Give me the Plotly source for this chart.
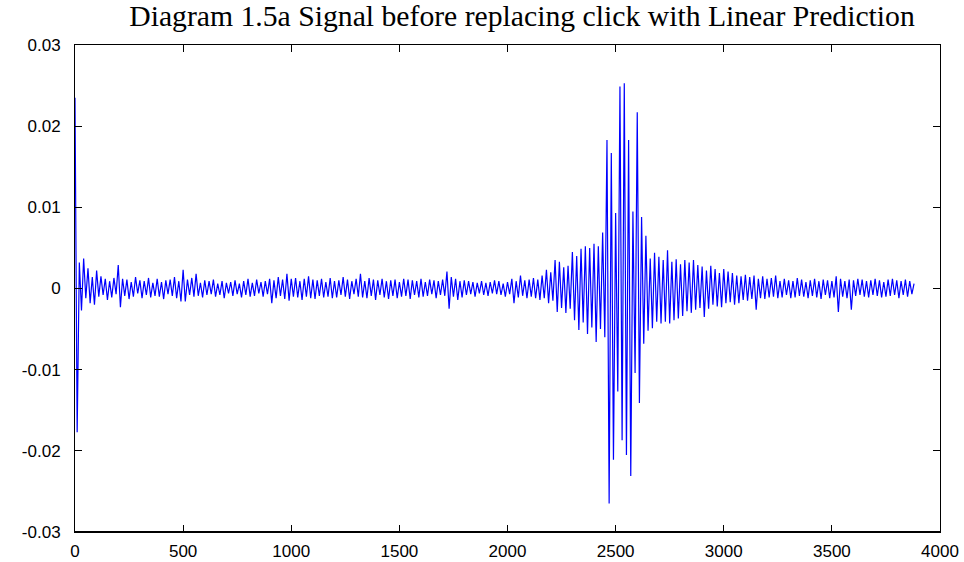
import numpy as np
import plotly.graph_objects as go

# Audio samples around a click, stored every SAMPLE_STEP samples, in units of 1e-4
SAMPLE_STEP = 10
AMP_UNIT = 1e-4
amplitude = [
    235, -177, 32, -27, 37, -12, 25, -18, 14, -20,
    22, -10, 15, -8, 12, -14, 9, -11, 13, -7,
    29, -23, 12, -9, 11, -13, 8, -10, 14, -6,
    10, -12, 9, -8, 13, -11, 7, -9, 12, -10,
    8, -13, 10, -7, 11, -9, 14, -12, 9, -16,
    23, -16, 11, -8, 13, -10, 18, -9, 7, -11,
    10, -8, 9, -7, 11, -10, 6, -8, 9, -12,
    7, -6, 8, -9, 10, -7, 6, -11, 9, -8,
    12, -10, 7, -9, 11, -6, 8, -10, 9, -7,
    12, -18, 10, -12, 14, -9, 11, -13, 18, -15,
    12, -10, 13, -11, 9, -14, 12, -10, 15, -12,
    11, -13, 10, -9, 12, -11, 8, -10, 13, -12,
    9, -11, 10, -8, 14, -10, 11, -13, 9, -7,
    12, -10, 18, -11, 9, -12, 13, -9, 11, -14,
    10, -8, 12, -11, 9, -13, 10, -9, 11, -12,
    8, -10, 12, -9, 11, -13, 10, -8, 9, -11,
    12, -10, 8, -9, 11, -7, 10, -12, 9, -8,
    11, -9, 21, -25, 14, -10, 12, -14, 9, -11,
    10, -8, 9, -7, 8, -10, 7, -6, 9, -8,
    7, -9, 8, -6, 10, -7, 9, -8, 6, -10,
    8, -7, 12, -18, 9, -11, 16, -9, 10, -12,
    11, -10, 13, -12, 11, -14, 16, -12, 23, -18,
    20, -15, 35, -29, 33, -24, 26, -30, 28, -25,
    45, -39, 40, -51, 49, -42, 52, -56, 50, -48,
    55, -66, 52, -50, 69, -60, 183, -265, 167, -211,
    93, -127, 249, -187, 253, -205, 183, -231, 95, -104,
    217, -141, 88, -68, 65, -52, 37, -49, 44, -41,
    39, -43, 35, -41, 47, -43, 33, -39, 36, -37,
    30, -34, 35, -28, 32, -30, 35, -26, 29, -24,
    27, -35, 22, -25, 28, -20, 24, -22, 19, -23,
    24, -18, 21, -17, 19, -20, 16, -18, 15, -14,
    17, -15, 14, -13, 16, -26, 12, -12, 15, -13,
    12, -11, 13, -10, 16, -12, 9, -11, 12, -8,
    10, -12, 9, -11, 13, -9, 11, -10, 8, -12,
    10, -9, 12, -11, 9, -13, 11, -8, 10, -12,
    9, -11, 15, -29, 12, -10, 9, -12, 11, -26,
    10, -9, 12, -8, 11, -10, 9, -11, 10, -8,
    12, -9, 10, -11, 8, -10, 11, -9, 12, -8,
    10, -12, 9, -8, 11, -10, 9, -7, 6,
]

x_ticks = [0, 500, 1000, 1500, 2000, 2500, 3000, 3500, 4000]
y_ticks = [-0.03, -0.02, -0.01, 0, 0.01, 0.02, 0.03]
y_tick_text = ["-0.03", "-0.02", "-0.01", "0", "0.01", "0.02", "0.03"]

samples = np.arange(len(amplitude)) * SAMPLE_STEP
signal = np.array(amplitude) * AMP_UNIT

fig = go.Figure(
    go.Scatter(
        x=samples, y=signal, mode="lines",
        line=dict(color="#0000ff", width=1.2),
        showlegend=False,
    )
)

axis_font = dict(family="Liberation Sans, Arial, sans-serif", size=17, color="black")

fig.update_layout(
    width=964, height=562,
    margin=dict(l=75, r=24, t=45, b=30, autoexpand=False),
    paper_bgcolor="white", plot_bgcolor="white",
    title=dict(
        text="Diagram 1.5a Signal before replacing click with Linear Prediction",
        font=dict(family="Liberation Serif, Times New Roman, serif", size=29.7, color="black"),
        x=0.5415, xanchor="center", xref="container",
        y=0.99, yref="container", yanchor="top", pad=dict(t=0),
    ),
    xaxis=dict(
        range=[0, 4000], tickvals=x_ticks, ticks="inside", ticklen=7,
        tickcolor="black", showline=True, linecolor="black", linewidth=1,
        mirror="allticks", showgrid=False, zeroline=False, automargin=False,
        tickfont=axis_font, ticklabelstandoff=4,
    ),
    yaxis=dict(
        range=[-0.03, 0.03], tickvals=y_ticks, ticktext=y_tick_text,
        ticks="inside", ticklen=7, tickcolor="black", showline=True,
        linecolor="black", linewidth=1, mirror="allticks", showgrid=False,
        zeroline=False, automargin=False, tickfont=axis_font, ticklabelstandoff=10,
    ),
    shapes=[
        dict(type="line", xref="paper", yref="paper", x0=0, x1=1, y0=0, y1=0,
             line=dict(color="black", width=2)),
    ],
)

fig.write_html("out.html")
